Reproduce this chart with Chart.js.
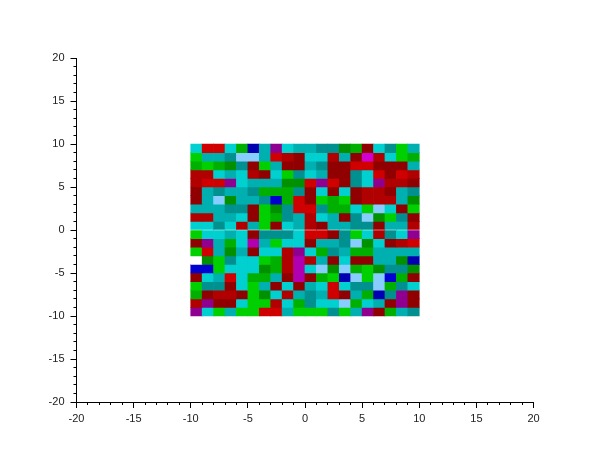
<!DOCTYPE html>
<html>
<head>
<meta charset="utf-8">
<style>
  html, body { margin: 0; padding: 0; background: #fff; }
  canvas { display: block; }
</style>
<script src="https://cdn.jsdelivr.net/npm/chart.js@4/dist/chart.umd.min.js"></script>
</head>
<body>
<canvas id="chart" width="610" height="460"></canvas>
<script>
// colormap index -> colour (default graphics colormap)
const colormap = {
    8: '#ffffff', 10: '#0000b0', 11: '#0000d0', 12: '#87ceff',
    13: '#009000', 14: '#00b000', 15: '#00d000',
    16: '#009090', 17: '#00b0b0', 18: '#00d0d0',
    19: '#900000', 20: '#b00000', 21: '#d00000',
    22: '#900090', 23: '#b000b0', 24: '#d000d0'
};

// left edge of each column, top edge of each row
const columnEdges = [-10, -9, -8, -7, -6, -5, -4, -3, -2, -1, 0, 1, 2, 3, 4, 5, 6, 7, 8, 9];
const rowEdges = [10, 9, 8, 7, 6, 5, 4, 3, 2, 1, 0, -1, -2, -3, -4, -5, -6, -7, -8, -9];

// cell values, top row first
const cellValues = [
    [18, 21, 21, 18, 14, 10, 17, 22, 18, 17, 17, 16, 16, 13, 14, 19, 18, 16, 15, 17],
    [15, 17, 17, 16, 12, 12, 17, 21, 20, 19, 18, 18, 20, 17, 19, 24, 20, 18, 15, 14],
    [14, 15, 14, 13, 16, 19, 15, 17, 19, 19, 17, 16, 19, 19, 21, 21, 19, 19, 19, 17],
    [20, 20, 18, 17, 18, 20, 19, 18, 15, 16, 18, 17, 19, 19, 16, 18, 21, 19, 21, 20],
    [20, 21, 21, 22, 18, 17, 17, 17, 13, 13, 21, 22, 21, 19, 16, 18, 22, 20, 20, 19],
    [19, 17, 16, 17, 17, 16, 14, 14, 14, 16, 19, 18, 19, 18, 19, 20, 20, 19, 17, 16],
    [19, 17, 12, 13, 17, 17, 16, 11, 14, 21, 19, 15, 14, 15, 19, 20, 20, 20, 17, 13],
    [17, 17, 17, 16, 16, 19, 15, 13, 16, 21, 21, 16, 14, 14, 18, 15, 12, 18, 19, 15],
    [20, 20, 17, 17, 18, 19, 15, 14, 16, 17, 20, 18, 17, 19, 16, 12, 13, 15, 16, 19],
    [18, 18, 16, 18, 20, 17, 15, 19, 18, 17, 20, 19, 17, 17, 16, 16, 19, 17, 17, 20],
    [15, 18, 18, 17, 18, 19, 16, 16, 16, 18, 21, 21, 19, 16, 15, 18, 20, 16, 18, 22],
    [19, 22, 17, 14, 18, 23, 17, 15, 18, 18, 19, 17, 17, 16, 12, 13, 18, 19, 20, 21],
    [15, 21, 17, 13, 17, 19, 18, 18, 20, 22, 18, 14, 16, 17, 14, 14, 17, 17, 17, 17],
    [8, 13, 15, 16, 18, 18, 15, 14, 20, 23, 20, 17, 19, 18, 19, 19, 17, 17, 13, 10],
    [11, 11, 15, 18, 18, 18, 13, 14, 20, 23, 18, 12, 13, 12, 14, 15, 13, 16, 16, 13],
    [19, 18, 17, 21, 18, 14, 14, 17, 19, 23, 19, 14, 15, 10, 12, 15, 12, 11, 14, 19],
    [15, 16, 16, 19, 18, 15, 17, 19, 18, 19, 17, 18, 21, 18, 16, 16, 12, 14, 16, 18],
    [14, 19, 20, 20, 19, 15, 13, 18, 20, 17, 16, 17, 21, 19, 17, 14, 10, 16, 22, 19],
    [20, 22, 19, 19, 18, 15, 15, 20, 18, 14, 16, 18, 18, 12, 14, 18, 17, 19, 22, 19],
    [22, 18, 15, 17, 15, 15, 21, 21, 17, 15, 15, 15, 16, 15, 17, 22, 19, 14, 17, 16]
];

const minorTicks = [-19, -18, -17, -16, -14, -13, -12, -11, -9, -8, -7, -6, -4, -3, -2, -1,
    1, 2, 3, 4, 6, 7, 8, 9, 11, 12, 13, 14, 16, 17, 18, 19];

// one dataset per row, bars overlap instead of grouping
const datasets = cellValues.map((row, r) => ({
    data: columnEdges.map(left => ({ x: left + 0.5, y: [rowEdges[r] - 1, rowEdges[r]] })),
    backgroundColor: row.map(v => colormap[v]),
    borderWidth: 0,
    categoryPercentage: 1,
    barPercentage: 1,
    grouped: false
}));

// short ticks between the labelled ones
const minorTickPlugin = {
    id: 'minorTicks',
    afterDatasetsDraw(chart) {
        const { ctx, scales: { x, y }, chartArea } = chart;
        ctx.save();
        ctx.strokeStyle = '#000';
        ctx.lineWidth = 1;
        ctx.beginPath();
        minorTicks.forEach(v => {
            const px = Math.floor(x.getPixelForValue(v)) + 0.5;
            const py = Math.floor(y.getPixelForValue(v)) + 0.5;
            ctx.moveTo(px, chartArea.bottom);
            ctx.lineTo(px, chartArea.bottom + 3);
            ctx.moveTo(chartArea.left, py);
            ctx.lineTo(chartArea.left - 3, py);
        });
        ctx.stroke();
        ctx.restore();
    }
};

const axisStyle = {
    type: 'linear',
    min: -20,
    max: 20,
    offset: false,
    border: { display: true, color: '#000', width: 1 },
    grid: { drawOnChartArea: false, offset: false, tickLength: 6, tickColor: '#000', tickWidth: 1 },
    ticks: {
        stepSize: 5,
        color: '#222',
        maxRotation: 0,
        autoSkip: false,
        font: { family: '"Liberation Sans"', size: 11 }
    }
};

new Chart(document.getElementById('chart').getContext('2d'), {
    type: 'bar',
    data: { datasets },
    plugins: [minorTickPlugin],
    options: {
        responsive: false,
        animation: false,
        devicePixelRatio: 1,
        layout: { padding: { left: 0, right: 76.5, top: 58, bottom: 0 } },
        plugins: { legend: { display: false }, tooltip: { enabled: false } },
        scales: {
            x: { ...axisStyle, ticks: { ...axisStyle.ticks, padding: 4 }, afterFit(scale) { scale.height = 58; } },
            y: { ...axisStyle, ticks: { ...axisStyle.ticks, padding: 6 }, afterFit(scale) { scale.width = 76.5; } }
        }
    }
});
</script>
</body>
</html>
